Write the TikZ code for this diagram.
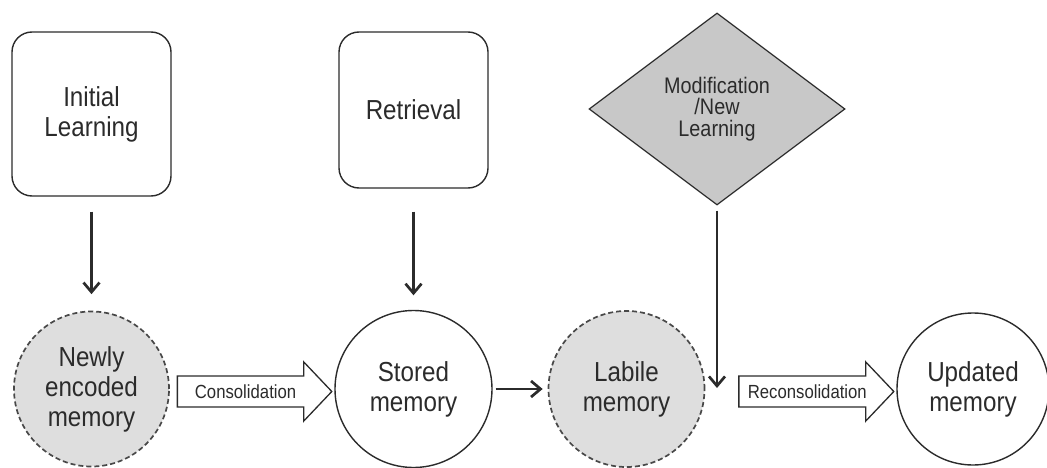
\documentclass[tikz,border=0pt]{standalone}
\usepackage{fontspec}
\setmainfont{Liberation Sans}[FakeStretch=0.88]
\usetikzlibrary{arrows.meta,shapes.geometric,calc}

\definecolor{ink}{HTML}{2B2B2B}
\definecolor{lightfill}{HTML}{DEDEDE}
\definecolor{diamondfill}{HTML}{C8C8C8}
\definecolor{dashink}{HTML}{484848}

% hollow block arrow between two nodes: #1 gap after source, #2 source, #3 target, #4 label
\newcommand{\hollowarrow}[4]{%
  \draw[blockarrow] let \p1=($(#2.east)+(#1,2.5)$), \p2=($(#3.west)+(-2.5,0)$) in
    (\x1,\y1+15.5pt) -- (\x2-28pt,\y1+15.5pt) -- (\x2-28pt,\y1+29.5pt) -- (\x2,\y1)
    -- (\x2-28pt,\y1-29.5pt) -- (\x2-28pt,\y1-15.5pt) -- (\x1,\y1-15.5pt) -- cycle
    node[smalltext] at ({(\x1+\x2-28pt)/2+5pt},\y1) {#4};}

\begin{document}
\begin{tikzpicture}[x=1pt,y=-1pt,
  bigtext/.style={font=\fontsize{27.5}{30}\selectfont, text=ink, align=center},
  stagebox/.style={draw=ink, line width=1.4pt, rounded corners=20pt, bigtext, inner sep=0pt},
  memcircle/.style={circle, draw=ink, line width=1.4pt, inner sep=0pt, bigtext},
  labilecircle/.style={memcircle, fill=lightfill, draw=dashink, line width=1.7pt, dash pattern=on 5pt off 3pt},
  flow/.style={draw=ink, line width=2.7pt, -{Straight Barb[length=9.5pt,width=16pt]}},
  blockarrow/.style={draw=ink, line width=1.3pt, fill=white, line join=miter},
  smalltext/.style={font=\fontsize{19}{21}\selectfont, text=ink},
]
\useasboundingbox (0,0) rectangle (1047,468);

% sources of change
\node[stagebox, minimum width=159pt, minimum height=164pt] (init) at (91.5,114) {Initial\\Learning};
\node[stagebox, minimum width=149pt, minimum height=156pt] (retr) at (413.5,110) {Retrieval};
\node[diamond, draw=ink, fill=diamondfill, line width=1.2pt, minimum width=256pt,
      minimum height=192pt, inner sep=0pt, font=\fontsize{22.5}{21.5}\selectfont,
      text=ink, align=center] (modif) at (717,109) {Modification\\/New\\Learning};

% memory states
\node[labilecircle, minimum size=155pt] (new) at (91.5,389) {Newly\\encoded\\memory};
\node[memcircle, minimum size=157pt] (stored) at (413.5,389) {Stored\\memory};
\node[labilecircle, minimum size=156pt] (labile) at (626.5,389) {Labile\\memory};
\node[memcircle, minimum size=152pt] (updated) at (973,389) {Updated\\memory};

\coordinate (merge) at (717,388);

% vertical inputs
\draw[flow, shorten <=15pt, shorten >=16.5pt] (init.south) -- (new.north);
\draw[flow, shorten <=23pt, shorten >=14.5pt] (retr.south) -- (stored.north);
\draw[flow, shorten <=5pt] (modif.south) -- (merge);

% transitions
\draw[flow, shorten <=3pt, shorten >=5pt] (stored.east) -- (labile.west);
\hollowarrow{7.5}{new}{stored}{Consolidation}
\hollowarrow{33.5}{labile}{updated}{Reconsolidation}
\end{tikzpicture}
\end{document}
